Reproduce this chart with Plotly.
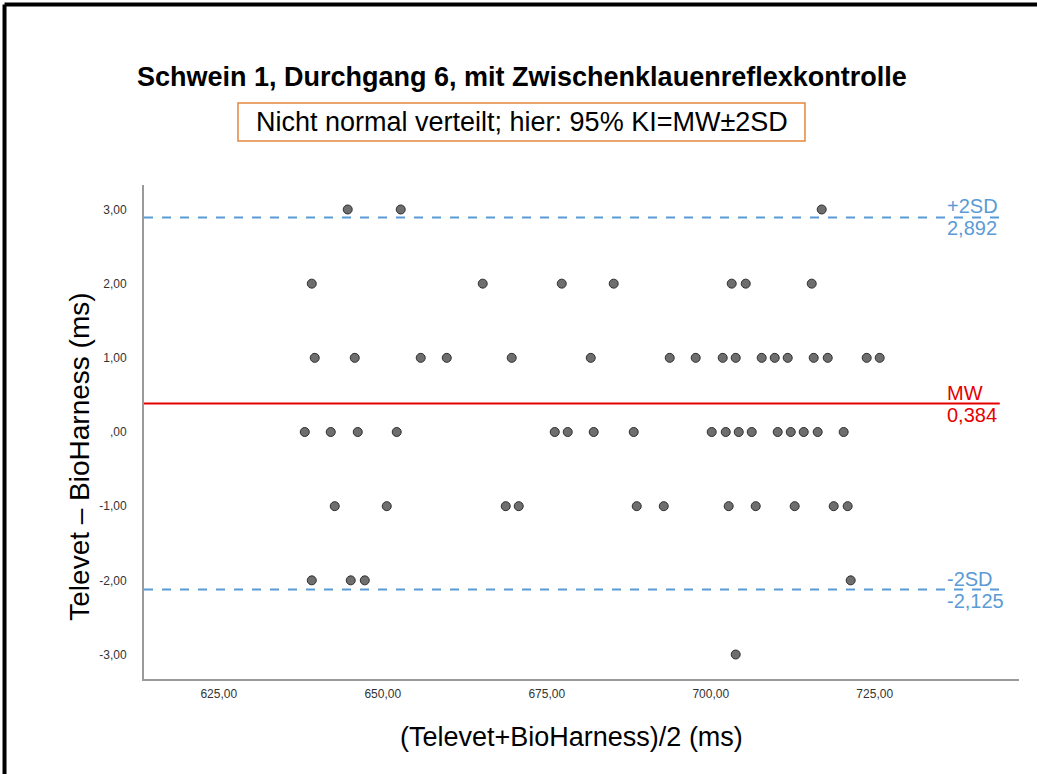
import plotly.graph_objects as go

# Bland-Altman data: mean of both devices (x) and difference Televet - BioHarness (y)
mean_ms = [
    644.66, 652.74, 716.92,
    639.18, 665.24, 677.29, 685.21, 703.20, 705.34, 715.40,
    639.63, 645.73, 655.79, 659.76, 669.66, 681.71, 693.75, 697.71, 701.83,
    703.81, 707.77, 709.76, 711.74, 715.70, 717.84, 723.78, 725.76,
    638.11, 642.07, 646.19, 652.13, 676.22, 678.20, 682.16, 688.26, 700.15,
    702.29, 704.27, 706.25, 710.21, 712.20, 714.18, 716.31, 720.27,
    642.68, 650.61, 668.75, 670.73, 688.72, 692.84, 702.74, 706.86, 712.80,
    718.75, 720.88,
    639.18, 645.12, 647.26, 721.34,
    703.81,
]
diff_ms = (
    [3] * 3
    + [2] * 7
    + [1] * 17
    + [0] * 17
    + [-1] * 11
    + [-2] * 4
    + [-3] * 1
)

mean_diff = 0.384
upper_loa = 2.892
lower_loa = -2.125

x_ticks = [625, 650, 675, 700, 725]
x_tick_labels = ["625,00", "650,00", "675,00", "700,00", "725,00"]
y_ticks = [-3, -2, -1, 0, 1, 2, 3]
y_tick_labels = ["-3,00", "-2,00", "-1,00", ",00", "1,00", "2,00", "3,00"]


def de_num(v):
    return f"{v:.3f}".replace(".", ",")


BLUE = "#5b9bd5"
RED = "#e60000"
FONT = "Liberation Sans"

fig = go.Figure()
fig.add_trace(go.Scatter(
    x=mean_ms, y=diff_ms, mode="markers",
    marker=dict(size=9, color="#6e6e6e", line=dict(color="#2e2e2e", width=1)),
    hoverinfo="x+y", showlegend=False,
))

line_x1 = 0.978
shapes = [
    dict(type="line", xref="paper", yref="y", x0=0, x1=line_x1,
         y0=upper_loa, y1=upper_loa, line=dict(color=BLUE, width=2, dash="dash")),
    dict(type="line", xref="paper", yref="y", x0=0, x1=line_x1,
         y0=lower_loa, y1=lower_loa, line=dict(color=BLUE, width=2, dash="dash")),
    dict(type="line", xref="paper", yref="y", x0=0, x1=line_x1,
         y0=mean_diff, y1=mean_diff, line=dict(color=RED, width=2)),
    # note box under the title
    dict(type="rect", xref="paper", yref="paper", x0=0.1074, x1=0.7554,
         y0=1.0891, y1=1.1660, line=dict(color="#e3873d", width=1.5),
         fillcolor="white"),
    # frame lines along the top and left edge
    dict(type="line", xref="paper", yref="paper", x0=-0.1594, x1=1.0206,
         y0=1.3654, y1=1.3654, line=dict(color="black", width=4)),
    dict(type="line", xref="paper", yref="paper", x0=-0.1594, x1=-0.1594,
         y0=-0.1923, y1=1.3654, line=dict(color="black", width=4)),
]

ann = []
lab_x = 0.9154
for val, name, color in [(upper_loa, "+2SD", BLUE), (mean_diff, "MW", RED),
                         (lower_loa, "-2SD", BLUE)]:
    ann.append(dict(xref="paper", yref="y", x=lab_x, y=val, text=name,
                    xanchor="left", yanchor="bottom", showarrow=False, yshift=-2,
                    font=dict(family=FONT, size=20, color=color)))
    ann.append(dict(xref="paper", yref="y", x=lab_x, y=val, text=de_num(val),
                    xanchor="left", yanchor="top", showarrow=False, yshift=2,
                    font=dict(family=FONT, size=20, color=color)))

ann += [
    dict(xref="paper", yref="paper", x=0.432, y=1.2186,
         text="<b>Schwein 1, Durchgang 6, mit Zwischenklauenreflexkontrolle</b>",
         showarrow=False, xanchor="center", yanchor="middle",
         font=dict(family=FONT, size=27, color="black")),
    dict(xref="paper", yref="paper", x=0.432, y=1.1275,
         text="Nicht normal verteilt; hier: 95% KI=MW±2SD",
         showarrow=False, xanchor="center", yanchor="middle",
         font=dict(family=FONT, size=27, color="black")),
    dict(xref="paper", yref="paper", x=-0.0731, y=0.45,
         text="Televet – BioHarness (ms)", textangle=-90,
         showarrow=False, xanchor="center", yanchor="middle",
         font=dict(family=FONT, size=28, color="black")),
    dict(xref="paper", yref="paper", x=0.488, y=-0.1174,
         text="(Televet+BioHarness)/2 (ms)",
         showarrow=False, xanchor="center", yanchor="middle",
         font=dict(family=FONT, size=27, color="black")),
]

axis_common = dict(
    showgrid=False, zeroline=False, showline=True, linecolor="#9a9a9a",
    linewidth=2, ticks="", tickfont=dict(family=FONT, size=12, color="#333333"),
    mirror=False,
)

fig.update_layout(
    width=1037, height=774,
    margin=dict(l=144, r=18, t=185, b=95),
    paper_bgcolor="white", plot_bgcolor="white",
    xaxis=dict(range=[613.6, 747], tickvals=x_ticks, ticktext=x_tick_labels,
               ticklabelstandoff=3, **axis_common),
    yaxis=dict(range=[-3.33, 3.33], tickvals=y_ticks, ticktext=y_tick_labels,
               ticklabelstandoff=13, **axis_common),
    shapes=shapes, annotations=ann, showlegend=False,
)

fig.write_html("out.html")
